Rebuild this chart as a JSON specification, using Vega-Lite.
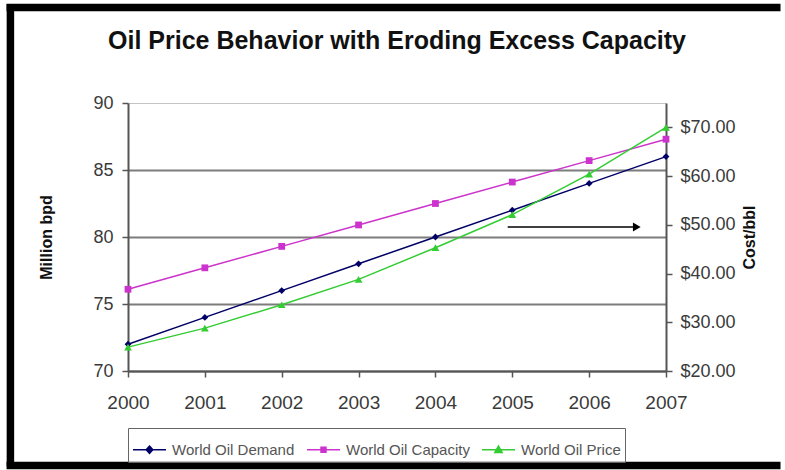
{
  "$schema": "https://vega.github.io/schema/vega-lite/v6.json",
  "width": 538,
  "height": 268,
  "autosize": {"type": "none"},
  "padding": {"left": 128, "top": 103, "right": 119, "bottom": 99},
  "background": "white",
  "title": {
    "text": "Oil Price Behavior with Eroding Excess Capacity",
    "font": "Liberation Sans",
    "fontSize": 25,
    "fontWeight": "bold",
    "color": "#111111",
    "anchor": "middle",
    "offset": -54
  },
  "datasets": {
    "oil": [
      {"year": 2000, "series": "World Oil Demand", "value": 72},
      {"year": 2001, "series": "World Oil Demand", "value": 74},
      {"year": 2002, "series": "World Oil Demand", "value": 76},
      {"year": 2003, "series": "World Oil Demand", "value": 78},
      {"year": 2004, "series": "World Oil Demand", "value": 80},
      {"year": 2005, "series": "World Oil Demand", "value": 82},
      {"year": 2006, "series": "World Oil Demand", "value": 84},
      {"year": 2007, "series": "World Oil Demand", "value": 86},
      {"year": 2000, "series": "World Oil Capacity", "value": 76.1},
      {"year": 2001, "series": "World Oil Capacity", "value": 77.7},
      {"year": 2002, "series": "World Oil Capacity", "value": 79.3},
      {"year": 2003, "series": "World Oil Capacity", "value": 80.9},
      {"year": 2004, "series": "World Oil Capacity", "value": 82.5},
      {"year": 2005, "series": "World Oil Capacity", "value": 84.1},
      {"year": 2006, "series": "World Oil Capacity", "value": 85.7},
      {"year": 2007, "series": "World Oil Capacity", "value": 87.3},
      {"year": 2000, "series": "World Oil Price", "value": 24.9},
      {"year": 2001, "series": "World Oil Price", "value": 28.8},
      {"year": 2002, "series": "World Oil Price", "value": 33.6},
      {"year": 2003, "series": "World Oil Price", "value": 38.8},
      {"year": 2004, "series": "World Oil Price", "value": 45.3},
      {"year": 2005, "series": "World Oil Price", "value": 52.1},
      {"year": 2006, "series": "World Oil Price", "value": 60.4},
      {"year": 2007, "series": "World Oil Price", "value": 70.0}
    ],
    "trend_arrow": [
      {"from_year": 2004.94, "to_year": 2006.62, "level": 80.75}
    ]
  },
  "layer": [
    {
      "layer": [
        {
          "data": {"name": "trend_arrow"},
          "mark": {"type": "rule", "color": "black", "strokeWidth": 7.5, "strokeCap": "butt"},
          "encoding": {
            "x": {"datum": 1998.47, "type": "quantitative", "scale": {"domain": [2000, 2007], "nice": false, "zero": false}},
            "y": {"datum": 97.38, "type": "quantitative"},
            "y2": {"datum": 62.9, "type": "quantitative"}
          }
        },
        {
          "data": {"name": "trend_arrow"},
          "mark": {"type": "rule", "color": "black", "strokeWidth": 7.5, "strokeCap": "butt"},
          "encoding": {
            "x": {"datum": 1998.42, "type": "quantitative"},
            "x2": {"datum": 2008.49, "type": "quantitative"},
            "y": {"datum": 97.13, "type": "quantitative"}
          }
        },
        {
          "data": {"name": "trend_arrow"},
          "mark": {"type": "rule", "color": "black", "strokeWidth": 7.5, "strokeCap": "butt"},
          "encoding": {
            "x": {"datum": 1998.42, "type": "quantitative"},
            "x2": {"datum": 2008.49, "type": "quantitative"},
            "y": {"datum": 62.94, "type": "quantitative"}
          }
        },
        {
          "data": {"name": "oil"},
          "transform": [{"filter": "datum.series !== 'World Oil Price'"}],
          "mark": {"type": "line", "strokeWidth": 1.5},
          "encoding": {
            "x": {
              "field": "year",
              "type": "quantitative",
              "scale": {"domain": [2000, 2007], "nice": false, "zero": false},
              "axis": {
                "title": null,
                "values": [2000, 2001, 2002, 2003, 2004, 2005, 2006, 2007],
                "format": "d",
                "labelPadding": 16,
                "labelFontSize": 19,
                "labelFlush": false,
                "grid": false
              }
            },
            "y": {
              "field": "value",
              "type": "quantitative",
              "scale": {"domain": [70, 90], "nice": false, "zero": false},
              "axis": {
                "title": "Million bpd",
                "values": [70, 75, 80, 85, 90],
                "labelPadding": 9,
                "titlePadding": 38,
                "grid": true,
                "gridColor": {"condition": {"test": "datum.value === 90", "value": "#c4c4c4"}, "value": "#7c7c7c"},
                "gridWidth": {"condition": {"test": "datum.value === 90", "value": 1.2}, "value": 2}
              }
            },
            "color": {
              "field": "series",
              "type": "nominal",
              "scale": {
                "domain": ["World Oil Demand", "World Oil Capacity", "World Oil Price"],
                "range": ["#000066", "#cc33cc", "#33cc33"]
              },
              "legend": {
                "title": null,
                "orient": "bottom",
                "direction": "horizontal",
                "offset": 16,
                "padding": 4,
                "strokeColor": "#666666",
                "symbolSize": 1089,
                "labelFontSize": 15,
                "labelFont": "Liberation Sans",
                "labelColor": "#555555",
                "labelOffset": 5,
                "columnPadding": 9,
                "encode": {
                  "symbols": {
                    "update": {
                      "shape": {"signal": "datum.value === 'World Oil Demand' ? 'M-1,0H1M0,-0.22L0.2,0L0,0.22L-0.2,0Z' : datum.value === 'World Oil Capacity' ? 'M-1,0H1M-0.15,-0.15H0.15V0.15H-0.15Z' : 'M-1,0H1M0,-0.22L0.22,0.16H-0.22Z'"},
                      "fill": {"signal": "scale('color', datum.value)"},
                      "stroke": {"signal": "scale('color', datum.value)"},
                      "strokeWidth": {"value": 1.5},
                      "opacity": {"value": 1}
                    }
                  }
                }
              }
            }
          }
        },
        {
          "data": {"name": "oil"},
          "transform": [{"filter": "datum.series !== 'World Oil Price'"}],
          "mark": {"type": "point", "filled": true, "opacity": 1, "size": 46},
          "encoding": {
            "x": {"field": "year", "type": "quantitative"},
            "y": {"field": "value", "type": "quantitative"},
            "color": {"field": "series", "type": "nominal"},
            "shape": {
              "field": "series",
              "type": "nominal",
              "scale": {"domain": ["World Oil Demand", "World Oil Capacity"], "range": ["diamond", "square"]},
              "legend": null
            }
          }
        },
        {
          "data": {"name": "trend_arrow"},
          "mark": {"type": "rule", "color": "black", "strokeWidth": 1.6},
          "encoding": {
            "x": {"field": "from_year", "type": "quantitative"},
            "x2": {"field": "to_year"},
            "y": {"field": "level", "type": "quantitative"}
          }
        },
        {
          "data": {"name": "trend_arrow"},
          "mark": {"type": "point", "shape": "triangle-right", "filled": true, "color": "black", "size": 80, "opacity": 1},
          "encoding": {
            "x": {"field": "to_year", "type": "quantitative"},
            "y": {"field": "level", "type": "quantitative"}
          }
        }
      ]
    },
    {
      "data": {"name": "oil"},
      "transform": [{"filter": "datum.series === 'World Oil Price'"}],
      "encoding": {
        "x": {"field": "year", "type": "quantitative"},
        "y": {
          "field": "value",
          "type": "quantitative",
          "scale": {"domain": [20, 75], "nice": false, "zero": false},
          "axis": {
            "orient": "right",
            "title": "Cost/bbl",
            "titleAngle": 270,
            "titleBaseline": "top",
            "values": [20, 30, 40, 50, 60, 70],
            "format": "$.2f",
            "labelPadding": 8,
            "titlePadding": 6,
            "grid": false
          }
        },
        "color": {"field": "series", "type": "nominal"}
      },
      "layer": [
        {"mark": {"type": "line", "strokeWidth": 1.5}},
        {"mark": {"type": "point", "shape": "triangle-up", "filled": true, "size": 60, "opacity": 1}}
      ]
    }
  ],
  "resolve": {"scale": {"y": "independent"}},
  "config": {
    "view": {"stroke": null},
    "axis": {
      "labelFont": "Liberation Sans",
      "labelFontSize": 18,
      "labelColor": "#3a3a3a",
      "titleFont": "Liberation Sans",
      "titleFontSize": 16,
      "titleFontWeight": "bold",
      "titleColor": "#111111",
      "domainColor": "#555555",
      "domainWidth": 2,
      "tickColor": "#555555",
      "tickWidth": 1.5,
      "tickSize": 6
    }
  }
}
